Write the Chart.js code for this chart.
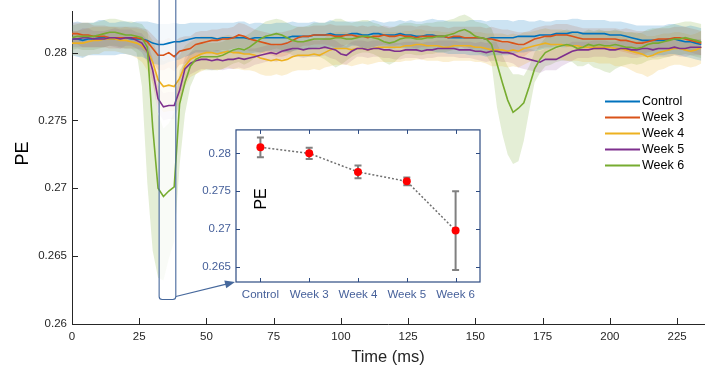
<!DOCTYPE html>
<html>
<head>
<meta charset="utf-8">
<script src="https://cdn.jsdelivr.net/npm/chart.js@4.4.1/dist/chart.umd.min.js"></script>
<style>
  html, body { margin: 0; padding: 0; background: #fff; }
  #wrap { position: relative; width: 716px; height: 367px; }
  #mainChart { position: absolute; left: 0; top: 0; }
  #insetChart { position: absolute; left: 180px; top: 118px; }
</style>
</head>
<body>
<div id="wrap">
  <canvas id="mainChart" width="716" height="367"></canvas>
  <canvas id="insetChart" width="310" height="190"></canvas>
</div>
<script>
// time axis (ms), one sample every 2 ms
const timeMs = [
  0, 2, 4, 6, 8, 10, 12, 14, 16, 18,
  20, 22, 24, 26, 28, 30, 32, 34, 36, 38,
  40, 42, 44, 46, 48, 50, 52, 54, 56, 58,
  60, 62, 64, 66, 68, 70, 72, 74, 76, 78,
  80, 82, 84, 86, 88, 90, 92, 94, 96, 98,
  100, 102, 104, 106, 108, 110, 112, 114, 116, 118,
  120, 122, 124, 126, 128, 130, 132, 134, 136, 138,
  140, 142, 144, 146, 148, 150, 152, 154, 156, 158,
  160, 162, 164, 166, 168, 170, 172, 174, 176, 178,
  180, 182, 184, 186, 188, 190, 192, 194, 196, 198,
  200, 202, 204, 206, 208, 210, 212, 214, 216, 218,
  220, 222, 224, 226, 228, 230, 232, 234
];

const controlPE = [
  0.2810, 0.2810, 0.2809, 0.2810, 0.2810, 0.2811, 0.2811, 0.2810, 0.2810, 0.2811,
  0.2811, 0.2810, 0.2810, 0.2810, 0.2809, 0.2807, 0.2806, 0.2806, 0.2807, 0.2808,
  0.2808, 0.2809, 0.2810, 0.2811, 0.2811, 0.2811, 0.2811, 0.2810, 0.2811, 0.2811,
  0.2811, 0.2811, 0.2811, 0.2810, 0.2811, 0.2811, 0.2811, 0.2811, 0.2811, 0.2811,
  0.2811, 0.2812, 0.2812, 0.2812, 0.2812, 0.2813, 0.2813, 0.2813, 0.2814, 0.2813,
  0.2813, 0.2813, 0.2814, 0.2814, 0.2813, 0.2813, 0.2814, 0.2814, 0.2813, 0.2813,
  0.2813, 0.2814, 0.2813, 0.2813, 0.2812, 0.2812, 0.2813, 0.2813, 0.2812, 0.2812,
  0.2811, 0.2811, 0.2811, 0.2811, 0.2811, 0.2811, 0.2811, 0.2810, 0.2811, 0.2811,
  0.2811, 0.2811, 0.2811, 0.2812, 0.2812, 0.2812, 0.2812, 0.2813, 0.2813, 0.2813,
  0.2814, 0.2814, 0.2814, 0.2815, 0.2815, 0.2814, 0.2814, 0.2814, 0.2814, 0.2814,
  0.2813, 0.2813, 0.2813, 0.2812, 0.2811, 0.2810, 0.2809, 0.2809, 0.2809, 0.2809,
  0.2809, 0.2810, 0.2810, 0.2809, 0.2808, 0.2808, 0.2807, 0.2806
];
const week3PE = [
  0.2814, 0.2814, 0.2813, 0.2813, 0.2812, 0.2812, 0.2812, 0.2811, 0.2811, 0.2811,
  0.2811, 0.2811, 0.2811, 0.2810, 0.2808, 0.2803, 0.2798, 0.2798, 0.2800, 0.2797,
  0.2801, 0.2802, 0.2803, 0.2806, 0.2807, 0.2808, 0.2809, 0.2809, 0.2810, 0.2810,
  0.2811, 0.2813, 0.2812, 0.2810, 0.2809, 0.2808, 0.2807, 0.2806, 0.2806, 0.2806,
  0.2807, 0.2809, 0.2811, 0.2812, 0.2812, 0.2813, 0.2813, 0.2813, 0.2813, 0.2812,
  0.2812, 0.2813, 0.2813, 0.2812, 0.2812, 0.2811, 0.2812, 0.2812, 0.2813, 0.2812,
  0.2812, 0.2813, 0.2812, 0.2812, 0.2811, 0.2812, 0.2812, 0.2812, 0.2812, 0.2812,
  0.2811, 0.2812, 0.2812, 0.2811, 0.2811, 0.2811, 0.2811, 0.2810, 0.2810, 0.2809,
  0.2808, 0.2808, 0.2807, 0.2806, 0.2806, 0.2808, 0.2810, 0.2811, 0.2812, 0.2812,
  0.2813, 0.2813, 0.2813, 0.2812, 0.2811, 0.2810, 0.2810, 0.2810, 0.2810, 0.2810,
  0.2810, 0.2810, 0.2809, 0.2809, 0.2808, 0.2807, 0.2807, 0.2808, 0.2809, 0.2810,
  0.2810, 0.2810, 0.2811, 0.2811, 0.2810, 0.2809, 0.2808, 0.2807
];
const week4PE = [
  0.2807, 0.2807, 0.2807, 0.2808, 0.2809, 0.2809, 0.2810, 0.2810, 0.2810, 0.2809,
  0.2809, 0.2808, 0.2807, 0.2805, 0.2801, 0.2793, 0.2780, 0.2775, 0.2776, 0.2775,
  0.2781, 0.2790, 0.2795, 0.2797, 0.2799, 0.2800, 0.2800, 0.2799, 0.2800, 0.2801,
  0.2800, 0.2800, 0.2799, 0.2799, 0.2798, 0.2796, 0.2795, 0.2794, 0.2795, 0.2794,
  0.2795, 0.2797, 0.2798, 0.2798, 0.2798, 0.2799, 0.2798, 0.2800, 0.2802, 0.2803,
  0.2803, 0.2803, 0.2802, 0.2803, 0.2803, 0.2802, 0.2803, 0.2804, 0.2804, 0.2804,
  0.2804, 0.2804, 0.2805, 0.2805, 0.2806, 0.2806, 0.2805, 0.2805, 0.2805, 0.2804,
  0.2804, 0.2805, 0.2805, 0.2805, 0.2805, 0.2804, 0.2804, 0.2803, 0.2802, 0.2802,
  0.2802, 0.2801, 0.2802, 0.2801, 0.2803, 0.2804, 0.2805, 0.2806, 0.2807, 0.2806,
  0.2806, 0.2806, 0.2805, 0.2805, 0.2805, 0.2804, 0.2804, 0.2804, 0.2804, 0.2804,
  0.2804, 0.2803, 0.2803, 0.2802, 0.2801, 0.2800, 0.2799, 0.2797, 0.2798, 0.2800,
  0.2801, 0.2802, 0.2803, 0.2803, 0.2802, 0.2801, 0.2802, 0.2804
];
const week5PE = [
  0.2810, 0.2810, 0.2811, 0.2811, 0.2810, 0.2810, 0.2810, 0.2811, 0.2811, 0.2810,
  0.2811, 0.2811, 0.2809, 0.2807, 0.2801, 0.2787, 0.2766, 0.2760, 0.2761, 0.2761,
  0.2772, 0.2788, 0.2792, 0.2794, 0.2795, 0.2795, 0.2794, 0.2795, 0.2794, 0.2795,
  0.2795, 0.2796, 0.2795, 0.2796, 0.2797, 0.2798, 0.2799, 0.2800, 0.2799, 0.2801,
  0.2802, 0.2803, 0.2803, 0.2802, 0.2803, 0.2803, 0.2803, 0.2804, 0.2803, 0.2802,
  0.2799, 0.2798, 0.2801, 0.2803, 0.2803, 0.2802, 0.2803, 0.2803, 0.2802, 0.2802,
  0.2801, 0.2801, 0.2802, 0.2802, 0.2802, 0.2801, 0.2802, 0.2802, 0.2803, 0.2803,
  0.2803, 0.2803, 0.2802, 0.2802, 0.2802, 0.2801, 0.2801, 0.2800, 0.2801, 0.2801,
  0.2800, 0.2800, 0.2799, 0.2797, 0.2796, 0.2795, 0.2794, 0.2793, 0.2795, 0.2795,
  0.2795, 0.2797, 0.2799, 0.2801, 0.2802, 0.2802, 0.2802, 0.2803, 0.2803, 0.2803,
  0.2802, 0.2802, 0.2803, 0.2803, 0.2802, 0.2802, 0.2803, 0.2803, 0.2802, 0.2803,
  0.2803, 0.2803, 0.2804, 0.2803, 0.2803, 0.2804, 0.2804, 0.2804
];
const week6PE = [
  0.2811, 0.2812, 0.2812, 0.2812, 0.2812, 0.2813, 0.2814, 0.2815, 0.2815, 0.2814,
  0.2813, 0.2813, 0.2812, 0.2811, 0.2804, 0.2745, 0.2700, 0.2694, 0.2698, 0.2701,
  0.2762, 0.2778, 0.2790, 0.2795, 0.2797, 0.2797, 0.2797, 0.2797, 0.2798, 0.2800,
  0.2802, 0.2803, 0.2802, 0.2804, 0.2807, 0.2810, 0.2812, 0.2813, 0.2814, 0.2813,
  0.2811, 0.2809, 0.2808, 0.2808, 0.2809, 0.2810, 0.2810, 0.2810, 0.2810, 0.2811,
  0.2811, 0.2810, 0.2810, 0.2811, 0.2812, 0.2812, 0.2811, 0.2810, 0.2808, 0.2807,
  0.2808, 0.2810, 0.2811, 0.2811, 0.2810, 0.2810, 0.2811, 0.2811, 0.2812, 0.2812,
  0.2813, 0.2814, 0.2816, 0.2817, 0.2815, 0.2812, 0.2811, 0.2810, 0.2806, 0.2792,
  0.2778, 0.2765, 0.2756, 0.2759, 0.2763, 0.2775, 0.2788, 0.2795, 0.2800, 0.2802,
  0.2804, 0.2805, 0.2806, 0.2805, 0.2803, 0.2804, 0.2806, 0.2805, 0.2806, 0.2805,
  0.2805, 0.2806, 0.2805, 0.2804, 0.2804, 0.2803, 0.2804, 0.2806, 0.2807, 0.2807,
  0.2808, 0.2809, 0.2810, 0.2810, 0.2811, 0.2810, 0.2809, 0.2808
];

// shaded band half-widths
const controlSpread = [
  0.0012, 0.0013, 0.0013, 0.0012, 0.0012, 0.0013, 0.0013, 0.0012, 0.0012, 0.0012,
  0.0012, 0.0012, 0.0013, 0.0013, 0.0014, 0.0015, 0.0015, 0.0015, 0.0014, 0.0014,
  0.0013, 0.0012, 0.0012, 0.0011, 0.0011, 0.0011, 0.0011, 0.0012, 0.0011, 0.0011,
  0.0011, 0.0012, 0.0012, 0.0011, 0.0011, 0.0011, 0.0010, 0.0010, 0.0011, 0.0011,
  0.0011, 0.0011, 0.0010, 0.0010, 0.0010, 0.0010, 0.0009, 0.0009, 0.0010, 0.0010,
  0.0010, 0.0010, 0.0009, 0.0009, 0.0010, 0.0010, 0.0010, 0.0009, 0.0009, 0.0010,
  0.0010, 0.0010, 0.0010, 0.0011, 0.0011, 0.0011, 0.0011, 0.0012, 0.0012, 0.0012,
  0.0012, 0.0012, 0.0012, 0.0012, 0.0013, 0.0013, 0.0013, 0.0013, 0.0013, 0.0013,
  0.0013, 0.0013, 0.0012, 0.0012, 0.0012, 0.0011, 0.0011, 0.0011, 0.0010, 0.0010,
  0.0010, 0.0010, 0.0010, 0.0010, 0.0010, 0.0010, 0.0010, 0.0010, 0.0010, 0.0010,
  0.0010, 0.0010, 0.0010, 0.0010, 0.0010, 0.0010, 0.0011, 0.0011, 0.0011, 0.0011,
  0.0011, 0.0011, 0.0011, 0.0011, 0.0011, 0.0012, 0.0012, 0.0012
];
const week3Spread = [
  0.0008, 0.0008, 0.0009, 0.0009, 0.0008, 0.0008, 0.0008, 0.0008, 0.0008, 0.0008,
  0.0008, 0.0008, 0.0008, 0.0008, 0.0009, 0.0010, 0.0011, 0.0011, 0.0011, 0.0011,
  0.0010, 0.0010, 0.0009, 0.0009, 0.0009, 0.0008, 0.0008, 0.0008, 0.0008, 0.0008,
  0.0008, 0.0009, 0.0009, 0.0009, 0.0008, 0.0008, 0.0008, 0.0008, 0.0009, 0.0009,
  0.0009, 0.0008, 0.0008, 0.0007, 0.0007, 0.0007, 0.0007, 0.0007, 0.0008, 0.0008,
  0.0008, 0.0007, 0.0007, 0.0007, 0.0008, 0.0008, 0.0008, 0.0007, 0.0007, 0.0007,
  0.0007, 0.0007, 0.0008, 0.0008, 0.0008, 0.0008, 0.0008, 0.0007, 0.0007, 0.0007,
  0.0007, 0.0007, 0.0007, 0.0008, 0.0008, 0.0008, 0.0008, 0.0008, 0.0009, 0.0009,
  0.0009, 0.0009, 0.0009, 0.0009, 0.0009, 0.0008, 0.0008, 0.0008, 0.0008, 0.0008,
  0.0008, 0.0008, 0.0008, 0.0008, 0.0008, 0.0008, 0.0008, 0.0008, 0.0008, 0.0008,
  0.0008, 0.0008, 0.0008, 0.0009, 0.0009, 0.0009, 0.0009, 0.0008, 0.0008, 0.0008,
  0.0008, 0.0008, 0.0008, 0.0008, 0.0009, 0.0009, 0.0009, 0.0009
];
const week4Spread = [
  0.0009, 0.0009, 0.0010, 0.0010, 0.0010, 0.0010, 0.0009, 0.0009, 0.0009, 0.0009,
  0.0010, 0.0010, 0.0011, 0.0012, 0.0014, 0.0016, 0.0018, 0.0019, 0.0019, 0.0018,
  0.0017, 0.0015, 0.0013, 0.0013, 0.0013, 0.0012, 0.0012, 0.0012, 0.0012, 0.0012,
  0.0012, 0.0012, 0.0012, 0.0012, 0.0012, 0.0012, 0.0012, 0.0011, 0.0011, 0.0011,
  0.0011, 0.0011, 0.0011, 0.0011, 0.0011, 0.0011, 0.0011, 0.0011, 0.0012, 0.0012,
  0.0012, 0.0012, 0.0012, 0.0012, 0.0011, 0.0011, 0.0011, 0.0011, 0.0011, 0.0011,
  0.0011, 0.0011, 0.0011, 0.0011, 0.0011, 0.0011, 0.0011, 0.0011, 0.0011, 0.0011,
  0.0011, 0.0011, 0.0011, 0.0011, 0.0011, 0.0011, 0.0011, 0.0011, 0.0012, 0.0012,
  0.0012, 0.0012, 0.0012, 0.0012, 0.0012, 0.0011, 0.0011, 0.0011, 0.0011, 0.0011,
  0.0011, 0.0011, 0.0011, 0.0011, 0.0011, 0.0011, 0.0011, 0.0011, 0.0012, 0.0012,
  0.0012, 0.0013, 0.0013, 0.0013, 0.0014, 0.0015, 0.0015, 0.0015, 0.0014, 0.0013,
  0.0013, 0.0012, 0.0012, 0.0012, 0.0012, 0.0012, 0.0012, 0.0012
];
const week5Spread = [
  0.0006, 0.0006, 0.0007, 0.0007, 0.0006, 0.0006, 0.0006, 0.0006, 0.0007, 0.0007,
  0.0006, 0.0006, 0.0006, 0.0007, 0.0008, 0.0009, 0.0010, 0.0010, 0.0010, 0.0010,
  0.0010, 0.0009, 0.0008, 0.0008, 0.0007, 0.0007, 0.0007, 0.0007, 0.0007, 0.0007,
  0.0007, 0.0007, 0.0007, 0.0007, 0.0006, 0.0006, 0.0006, 0.0006, 0.0006, 0.0006,
  0.0006, 0.0006, 0.0006, 0.0006, 0.0006, 0.0006, 0.0006, 0.0006, 0.0007, 0.0007,
  0.0007, 0.0007, 0.0007, 0.0006, 0.0006, 0.0006, 0.0006, 0.0006, 0.0006, 0.0006,
  0.0006, 0.0006, 0.0006, 0.0006, 0.0006, 0.0006, 0.0006, 0.0006, 0.0006, 0.0006,
  0.0006, 0.0006, 0.0006, 0.0006, 0.0006, 0.0006, 0.0007, 0.0007, 0.0007, 0.0007,
  0.0007, 0.0007, 0.0007, 0.0008, 0.0008, 0.0008, 0.0008, 0.0008, 0.0008, 0.0008,
  0.0008, 0.0007, 0.0007, 0.0007, 0.0006, 0.0006, 0.0006, 0.0006, 0.0006, 0.0006,
  0.0006, 0.0006, 0.0006, 0.0006, 0.0006, 0.0006, 0.0006, 0.0006, 0.0006, 0.0006,
  0.0006, 0.0006, 0.0006, 0.0006, 0.0006, 0.0006, 0.0006, 0.0006
];
const week6SpreadUp = [
  0.0009, 0.0009, 0.0010, 0.0010, 0.0010, 0.0010, 0.0010, 0.0010, 0.0010, 0.0010,
  0.0010, 0.0010, 0.0010, 0.0010, 0.0012, 0.0040, 0.0055, 0.0050, 0.0050, 0.0055,
  0.0025, 0.0015, 0.0010, 0.0010, 0.0010, 0.0010, 0.0010, 0.0010, 0.0010, 0.0010,
  0.0010, 0.0010, 0.0010, 0.0010, 0.0010, 0.0010, 0.0011, 0.0011, 0.0011, 0.0011,
  0.0011, 0.0011, 0.0011, 0.0011, 0.0011, 0.0012, 0.0012, 0.0012, 0.0013, 0.0014,
  0.0014, 0.0013, 0.0012, 0.0012, 0.0012, 0.0012, 0.0011, 0.0011, 0.0011, 0.0011,
  0.0011, 0.0011, 0.0011, 0.0011, 0.0011, 0.0011, 0.0011, 0.0011, 0.0011, 0.0011,
  0.0011, 0.0011, 0.0011, 0.0011, 0.0011, 0.0011, 0.0011, 0.0011, 0.0012, 0.0015,
  0.0020, 0.0025, 0.0028, 0.0025, 0.0020, 0.0015, 0.0012, 0.0011, 0.0011, 0.0011,
  0.0011, 0.0011, 0.0011, 0.0011, 0.0011, 0.0011, 0.0011, 0.0011, 0.0011, 0.0011,
  0.0011, 0.0011, 0.0011, 0.0011, 0.0011, 0.0011, 0.0011, 0.0011, 0.0011, 0.0011,
  0.0011, 0.0011, 0.0011, 0.0012, 0.0012, 0.0013, 0.0013, 0.0013
];
const week6SpreadDown = [
  0.0009, 0.0009, 0.0010, 0.0010, 0.0010, 0.0010, 0.0010, 0.0010, 0.0010, 0.0010,
  0.0010, 0.0010, 0.0012, 0.0036, 0.0100, 0.0091, 0.0066, 0.0062, 0.0050, 0.0040,
  0.0045, 0.0023, 0.0015, 0.0011, 0.0010, 0.0010, 0.0010, 0.0010, 0.0010, 0.0010,
  0.0010, 0.0010, 0.0011, 0.0011, 0.0011, 0.0011, 0.0011, 0.0011, 0.0011, 0.0011,
  0.0011, 0.0011, 0.0011, 0.0011, 0.0012, 0.0013, 0.0013, 0.0015, 0.0018, 0.0022,
  0.0020, 0.0016, 0.0013, 0.0012, 0.0012, 0.0012, 0.0012, 0.0013, 0.0015, 0.0016,
  0.0015, 0.0013, 0.0012, 0.0012, 0.0012, 0.0012, 0.0012, 0.0012, 0.0012, 0.0012,
  0.0012, 0.0012, 0.0012, 0.0012, 0.0012, 0.0012, 0.0012, 0.0012, 0.0014, 0.0032,
  0.0038, 0.0040, 0.0038, 0.0039, 0.0028, 0.0018, 0.0010, 0.0010, 0.0010, 0.0011,
  0.0011, 0.0011, 0.0012, 0.0012, 0.0013, 0.0014, 0.0014, 0.0016, 0.0018, 0.0019,
  0.0020, 0.0018, 0.0015, 0.0013, 0.0012, 0.0012, 0.0012, 0.0012, 0.0012, 0.0012,
  0.0012, 0.0012, 0.0012, 0.0012, 0.0012, 0.0012, 0.0012, 0.0012
];

const mainXTicks = [0, 25, 50, 75, 100, 125, 150, 175, 200, 225];
const mainYTicks = [0.26, 0.265, 0.27, 0.275, 0.28];

// zoomed window shown in the inset
const zoomWindowMs = [32.4, 38.6];
const zoomWindowFloor = 0.2618;

// inset: mean PE in the window with error bars
const insetCategories = ['Control', 'Week 3', 'Week 4', 'Week 5', 'Week 6'];
const insetMeans = [0.2808, 0.2800, 0.27755, 0.2763, 0.2698];
const insetErr = [0.0013, 0.00075, 0.00085, 0.0005, 0.0052];
const insetYTicks = [0.265, 0.27, 0.275, 0.28];

const FONT = "'Liberation Sans', Arial, Helvetica, sans-serif";
Chart.defaults.font.family = FONT;
Chart.defaults.animation = false;

const series = [
  { label: 'Control', values: controlPE, up: controlSpread, down: controlSpread, color: '#0072BD', band: 'rgba(0,114,189,0.2)' },
  { label: 'Week 3', values: week3PE, up: week3Spread, down: week3Spread, color: '#D95319', band: 'rgba(217,83,25,0.17)' },
  { label: 'Week 4', values: week4PE, up: week4Spread, down: week4Spread, color: '#EDB120', band: 'rgba(237,177,32,0.2)' },
  { label: 'Week 5', values: week5PE, up: week5Spread, down: week5Spread, color: '#7E2F8E', band: 'rgba(126,47,142,0.15)' },
  { label: 'Week 6', values: week6PE, up: week6SpreadUp, down: week6SpreadDown, color: '#77AC30', band: 'rgba(119,172,48,0.2)' }
];

function fmt(v) { return String(+v.toFixed(4)); }

// ---------- inset ----------
const insetLeft = 180, insetTop = 118;

const insetBoxPlugin = {
  id: 'insetBox',
  beforeDraw(chart) {
    const { ctx, chartArea: a } = chart;
    ctx.save();
    ctx.fillStyle = '#ffffff';
    ctx.fillRect(a.left, a.top, a.right - a.left, a.bottom - a.top);
    ctx.restore();
  },
  beforeDatasetsDraw(chart) {
    const { ctx, scales: { x, y } } = chart;
    ctx.save();
    ctx.strokeStyle = '#808080';
    ctx.lineWidth = 2;
    insetMeans.forEach((m, i) => {
      const px = x.getPixelForValue(i);
      const top = y.getPixelForValue(m + insetErr[i]);
      const bot = y.getPixelForValue(m - insetErr[i]);
      ctx.beginPath();
      ctx.moveTo(px, top); ctx.lineTo(px, bot);
      ctx.moveTo(px - 3.5, top); ctx.lineTo(px + 3.5, top);
      ctx.moveTo(px - 3.5, bot); ctx.lineTo(px + 3.5, bot);
      ctx.stroke();
    });
    ctx.restore();
  },
  afterDraw(chart) {
    const { ctx, chartArea: a, scales: { x, y } } = chart;
    ctx.save();
    ctx.strokeStyle = '#2d4b82';
    ctx.lineWidth = 1.2;
    ctx.strokeRect(a.left, a.top, a.right - a.left, a.bottom - a.top);
    ctx.lineWidth = 1;
    ctx.beginPath();
    x.ticks.forEach((t, i) => {
      const px = Math.round(x.getPixelForValue(i)) + 0.5;
      ctx.moveTo(px, a.bottom); ctx.lineTo(px, a.bottom - 4);
      ctx.moveTo(px, a.top); ctx.lineTo(px, a.top + 4);
    });
    y.ticks.forEach(t => {
      const py = Math.round(y.getPixelForValue(t.value)) + 0.5;
      ctx.moveTo(a.left, py); ctx.lineTo(a.left + 4, py);
      ctx.moveTo(a.right, py); ctx.lineTo(a.right - 4, py);
    });
    ctx.stroke();
    // axis label sits inside the box
    ctx.fillStyle = '#000';
    ctx.font = '16px ' + FONT;
    ctx.textAlign = 'center';
    ctx.textBaseline = 'middle';
    ctx.translate(a.left + 26, a.top + 69);
    ctx.rotate(-Math.PI / 2);
    ctx.fillText('PE', 0, 0);
    ctx.restore();
  }
};

const insetChart = new Chart(document.getElementById('insetChart'), {
  type: 'line',
  data: {
    labels: insetCategories,
    datasets: [{
      data: insetMeans,
      borderColor: '#707070',
      borderWidth: 1.5,
      borderDash: [2, 2],
      pointRadius: 4,
      pointBackgroundColor: '#ff0000',
      pointBorderWidth: 0,
      tension: 0
    }]
  },
  options: {
    responsive: false,
    events: [],
    layout: { padding: { top: 11, right: 10, left: 0, bottom: 0 } },
    plugins: { legend: { display: false }, tooltip: { enabled: false } },
    scales: {
      x: {
        type: 'category',
        offset: true,
        grid: { display: false, drawTicks: false },
        border: { display: false },
        ticks: { color: '#46609a', font: { size: 11.5 }, padding: 6 },
        afterFit: s => { s.height = 26; }
      },
      y: {
        min: 0.263,
        max: 0.2831,
        grid: { display: false, drawTicks: false },
        border: { display: false },
        ticks: { color: '#46609a', font: { size: 11.5 }, padding: 5, callback: fmt },
        afterBuildTicks: s => { s.ticks = insetYTicks.map(v => ({ value: v })); },
        afterFit: s => { s.width = 56; }
      }
    }
  },
  plugins: [insetBoxPlugin]
});

// ---------- main chart ----------
const datasets = [];
series.forEach(s => {
  datasets.push({
    data: timeMs.map((t, i) => ({ x: t, y: s.values[i] + s.up[i] })),
    borderWidth: 0, pointRadius: 0, fill: false, order: 20, tension: 0
  });
  datasets.push({
    data: timeMs.map((t, i) => ({ x: t, y: s.values[i] - s.down[i] })),
    borderWidth: 0, pointRadius: 0, fill: '-1', backgroundColor: s.band, order: 20, tension: 0
  });
});
const firstLineIndex = datasets.length;
series.forEach((s, k) => {
  datasets.push({
    label: s.label,
    data: timeMs.map((t, i) => ({ x: t, y: s.values[i] })),
    borderColor: s.color,
    borderWidth: 1.6,
    pointRadius: 0,
    fill: false,
    tension: 0,
    order: 10 - k
  });
});

const mainDecor = {
  id: 'mainDecor',
  beforeDatasetDraw(chart, args) {
    // whitened zoom window sits above the bands, below the lines
    if (args.index !== firstLineIndex) return;
    const { ctx, chartArea: a, scales: { x, y } } = chart;
    const x0 = x.getPixelForValue(zoomWindowMs[0]);
    const x1 = x.getPixelForValue(zoomWindowMs[1]);
    ctx.save();
    ctx.fillStyle = 'rgba(255,255,255,0.8)';
    ctx.fillRect(x0, a.top, x1 - x0, y.getPixelForValue(zoomWindowFloor) - a.top);
    ctx.restore();
  },
  afterDraw(chart) {
    const { ctx, chartArea: a, scales: { x, y } } = chart;
    ctx.save();
    // inward ticks
    ctx.strokeStyle = '#262626';
    ctx.lineWidth = 1;
    ctx.beginPath();
    x.ticks.forEach(t => {
      const px = Math.round(x.getPixelForValue(t.value)) + 0.5;
      ctx.moveTo(px, a.bottom); ctx.lineTo(px, a.bottom - 6);
    });
    y.ticks.forEach(t => {
      const py = Math.round(y.getPixelForValue(t.value)) + 0.5;
      ctx.moveTo(a.left, py); ctx.lineTo(a.left + 6, py);
    });
    ctx.stroke();

    // zoom window outline + arrow to inset
    const x0 = x.getPixelForValue(zoomWindowMs[0]);
    const x1 = x.getPixelForValue(zoomWindowMs[1]);
    const yb = y.getPixelForValue(zoomWindowFloor);
    const r = 3;
    ctx.strokeStyle = '#46689c';
    ctx.lineWidth = 1.1;
    ctx.beginPath();
    ctx.moveTo(x0, 0);
    ctx.lineTo(x0, yb - r);
    ctx.quadraticCurveTo(x0, yb, x0 + r, yb);
    ctx.lineTo(x1 - r, yb);
    ctx.quadraticCurveTo(x1, yb, x1, yb - r);
    ctx.lineTo(x1, 0);
    ctx.stroke();

    const ia = insetChart.chartArea;
    const tx = insetLeft + ia.left - 1, ty = insetTop + ia.bottom;
    const sx = x1, sy = yb - 3;
    const ang = Math.atan2(ty - sy, tx - sx);
    ctx.fillStyle = '#46689c';
    ctx.beginPath();
    ctx.moveTo(sx, sy);
    ctx.lineTo(tx - 9 * Math.cos(ang), ty - 9 * Math.sin(ang));
    ctx.stroke();
    ctx.beginPath();
    ctx.moveTo(tx, ty);
    ctx.lineTo(tx - 10 * Math.cos(ang) + 4 * Math.sin(ang), ty - 10 * Math.sin(ang) - 4 * Math.cos(ang));
    ctx.lineTo(tx - 10 * Math.cos(ang) - 4 * Math.sin(ang), ty - 10 * Math.sin(ang) + 4 * Math.cos(ang));
    ctx.closePath();
    ctx.fill();

    // y axis title
    ctx.fillStyle = '#000';
    ctx.font = '18px ' + FONT;
    ctx.textAlign = 'center';
    ctx.textBaseline = 'middle';
    ctx.save();
    ctx.translate(23.5, 153.5);
    ctx.rotate(-Math.PI / 2);
    ctx.fillText('PE', 0, 0);
    ctx.restore();

    // legend
    ctx.font = '12.5px ' + FONT;
    ctx.textAlign = 'left';
    series.forEach((s, i) => {
      const ly = 101.5 + 16 * i;
      ctx.strokeStyle = s.color;
      ctx.lineWidth = 2.2;
      ctx.beginPath();
      ctx.moveTo(605, ly); ctx.lineTo(640, ly);
      ctx.stroke();
      ctx.fillStyle = '#000';
      ctx.fillText(s.label, 642, ly + 0.5);
    });
    ctx.restore();
  }
};

new Chart(document.getElementById('mainChart'), {
  type: 'line',
  data: { datasets: datasets },
  options: {
    responsive: false,
    events: [],
    layout: { padding: { top: 11, right: 12, left: 0, bottom: 0 } },
    plugins: { legend: { display: false }, tooltip: { enabled: false } },
    scales: {
      x: {
        type: 'linear',
        min: 0,
        max: 235,
        grid: { display: false, drawTicks: false },
        border: { display: true, color: '#262626', width: 1 },
        ticks: { color: '#262626', font: { size: 11.5 }, padding: 6, callback: fmt },
        afterBuildTicks: s => { s.ticks = mainXTicks.map(v => ({ value: v })); },
        title: { display: true, text: 'Time (ms)', color: '#262626', font: { size: 16.5 }, padding: { top: 0, bottom: 0 } },
        afterFit: s => { s.height = 43; }
      },
      y: {
        min: 0.26,
        max: 0.283,
        grid: { display: false, drawTicks: false },
        border: { display: true, color: '#262626', width: 1 },
        ticks: { color: '#262626', font: { size: 11.5 }, padding: 5, callback: fmt },
        afterBuildTicks: s => { s.ticks = mainYTicks.map(v => ({ value: v })); },
        afterFit: s => { s.width = 72; }
      }
    }
  },
  plugins: [mainDecor]
});
</script>
</body>
</html>
